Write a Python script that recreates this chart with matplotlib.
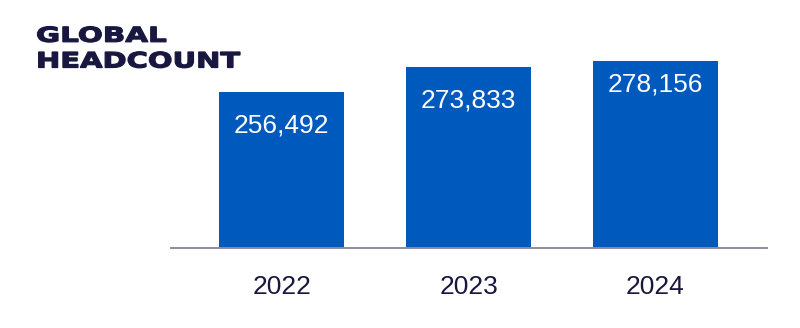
"""Global headcount bar chart."""

import matplotlib
matplotlib.use("Agg")
import matplotlib.pyplot as plt
from matplotlib.font_manager import FontProperties
from matplotlib.patches import PathPatch
from matplotlib.textpath import TextPath
from matplotlib.transforms import Affine2D

years = ["2022", "2023", "2024"]
headcount = [256492, 273833, 278156]

BAR_BLUE = "#005ABE"
NAVY = "#17173F"
LABEL_FONT = "Liberation Sans"
# how far below the bar top each value label sits (pixels)
label_drop = [33, 33, 24]


def _title_line(ax, text, x0, x1, baseline, cap):
    # stretch bold glyphs to the wide look of the original wordmark
    fp = FontProperties(family="DejaVu Sans", weight="bold")
    path = TextPath((0, 0), text, size=100, prop=fp)
    verts = path.vertices
    w = verts[:, 0].max() - verts[:, 0].min()
    h = TextPath((0, 0), "H", size=100, prop=fp).vertices[:, 1].max()
    tr = Affine2D().translate(-verts[:, 0].min(), 0).scale((x1 - x0) / w, -cap / h).translate(x0, baseline)
    ax.add_patch(PathPatch(tr.transform_path(path), facecolor=NAVY, edgecolor=NAVY, linewidth=0.9))


def main() -> None:
    fig = plt.figure(figsize=(8, 3.28), dpi=100)

    # bar axes, baseline at y=247.7 px from top
    ax = fig.add_axes([170.7 / 800, (328 - 247.7) / 328, (767.3 - 170.7) / 800, 218.8 / 328])
    x = range(len(years))
    ax.bar(x, headcount, width=0.665, color=BAR_BLUE, zorder=2)
    ax.set_xlim(-0.593, 2.598)
    ax.set_ylim(150000, 300000)

    for s in ("top", "right", "left"):
        ax.spines[s].set_visible(False)
    ax.spines["bottom"].set_color("#8C8C9C")
    ax.spines["bottom"].set_linewidth(1.4)
    ax.set_yticks([])
    ax.set_xticks(list(x))
    ax.set_xticklabels(years, fontsize=19, color=NAVY, family=LABEL_FONT)
    ax.tick_params(axis="x", length=0, pad=20)

    for i, v in enumerate(headcount):
        ax.annotate(
            f"{v:,}",
            (i, v),
            xytext=(0, -label_drop[i] * 0.72),
            textcoords="offset points",
            ha="center",
            va="center",
            fontsize=19,
            color="white",
            family=LABEL_FONT,
        )

    # overlay in pixel coordinates for the title
    tax = fig.add_axes([0, 0, 1, 1])
    tax.set_xlim(0, 800)
    tax.set_ylim(328, 0)
    tax.axis("off")
    _title_line(tax, "GLOBAL", 36, 166, 41.8, 15.0)
    _title_line(tax, "HEADCOUNT", 36, 240, 67.5, 15.5)

    fig.savefig("out.png", dpi=100)
    plt.close(fig)


if __name__ == "__main__":
    main()
